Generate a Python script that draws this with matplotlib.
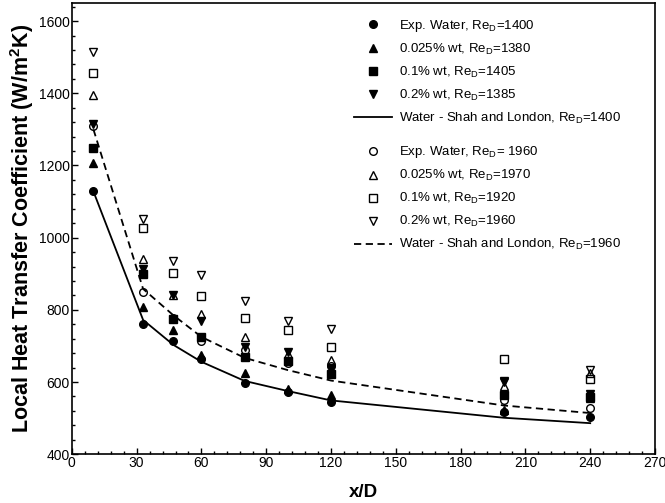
import matplotlib
matplotlib.use("Agg")
from matplotlib import pyplot as plt
from matplotlib.lines import Line2D

plt.rcParams['font.family'] = ['Liberation Sans', 'DejaVu Sans']
plt.rcParams['mathtext.fontset'] = 'custom'
plt.rcParams['mathtext.rm'] = 'Liberation Sans'
plt.rcParams['mathtext.it'] = 'Liberation Sans:italic'
plt.rcParams['mathtext.bf'] = 'Liberation Sans:bold'

# axial positions of the measurements
x_exp = [10, 33, 47, 60, 80, 100, 120, 200, 240]

# Re ~ 1400 (filled markers)
water_1400 = [1128, 761, 715, 665, 597, 572, 545, 517, 503]
wt025_1380 = [1206, 807, 743, 674, 625, 582, 563, 522, 555]
wt01_1405 = [1247, 898, 775, 726, 669, 658, 623, 565, 558]
wt02_1385 = [1314, 913, 840, 770, 697, 683, 636, 602, 568]

# Re ~ 1960 (open markers)
water_1960 = [1310, 849, 778, 715, 688, 652, 645, 550, 529]
wt025_1970 = [1394, 941, 840, 789, 724, 678, 660, 588, 625]
wt01_1920 = [1455, 1026, 902, 838, 777, 743, 697, 665, 607]
wt02_1960 = [1515, 1052, 934, 897, 824, 769, 748, 600, 632]

# Shah and London correlation
shah_1400 = [1128, 772, 703, 656, 603, 575, 549, 501, 486]
shah_1960 = [1300, 858, 785, 725, 667, 633, 604, 535, 514]

fig = plt.figure(figsize=(6.65, 5.03), dpi=100)
ax = fig.add_axes([0.108, 0.097, 0.877, 0.897])

ms = 5.5
dash = (0, (4, 2.5))
ax.plot(x_exp, shah_1400, '-', color='black', lw=1.3, zorder=2)
ax.plot(x_exp, shah_1960, color='black', lw=1.3, linestyle=dash, zorder=2)

filled = [(water_1400, 'o'), (wt025_1380, '^'), (wt01_1405, 's'), (wt02_1385, 'v')]
opened = [(water_1960, 'o'), (wt025_1970, '^'), (wt01_1920, 's'), (wt02_1960, 'v')]
for vals, m in filled:
    ax.plot(x_exp, vals, m, ms=ms, color='black', mec='black', zorder=3)
for vals, m in opened:
    ax.plot(x_exp, vals, m, ms=ms, mfc='none', mec='black', mew=1.0, zorder=3)

ax.set_xlim(0, 270)
ax.set_ylim(400, 1650)
ax.set_xticks(range(0, 271, 30))
ax.set_xticks(range(0, 271, 6), minor=True)
ax.set_yticks(range(400, 1601, 200))
ax.set_yticks(range(400, 1650, 40), minor=True)
ax.tick_params(which='both', direction='in', labelsize=10, pad=1.5, width=1)
ax.tick_params(which='major', length=4)
ax.tick_params(which='minor', length=2.5)
for sp in ax.spines.values():
    sp.set_linewidth(1.2)

ax.set_xlabel('x/D', fontsize=13.5, fontweight='bold', labelpad=10)
ax.set_ylabel(r'Local Heat Transfer Coefficient (W/m$^\mathbf{2}$K)', fontsize=15.5,
              fontweight='bold', labelpad=2)

re = r'Re$_\mathregular{D}$'
h1 = [Line2D([], [], ls='none', marker='o', ms=ms, color='black'),
      Line2D([], [], ls='none', marker='^', ms=ms, color='black'),
      Line2D([], [], ls='none', marker='s', ms=ms, color='black'),
      Line2D([], [], ls='none', marker='v', ms=ms, color='black'),
      Line2D([], [], ls='-', lw=1.3, color='black')]
l1 = ['Exp. Water, ' + re + '=1400', '0.025% wt, ' + re + '=1380',
      '0.1% wt, ' + re + '=1405', '0.2% wt, ' + re + '=1385',
      'Water - Shah and London, ' + re + '=1400']
h2 = [Line2D([], [], ls='none', marker='o', ms=ms, mfc='none', mec='black'),
      Line2D([], [], ls='none', marker='^', ms=ms, mfc='none', mec='black'),
      Line2D([], [], ls='none', marker='s', ms=ms, mfc='none', mec='black'),
      Line2D([], [], ls='none', marker='v', ms=ms, mfc='none', mec='black'),
      Line2D([], [], lw=1.3, color='black', linestyle=dash)]
l2 = ['Exp. Water, ' + re + '= 1960', '0.025% wt, ' + re + '=1970',
      '0.1% wt, ' + re + '=1920', '0.2% wt, ' + re + '=1960',
      'Water - Shah and London, ' + re + '=1960']

leg_kw = dict(frameon=False, fontsize=9.5, handlelength=2.9, handletextpad=0.5,
              labelspacing=0.6, borderpad=0, borderaxespad=0, loc='upper left')
leg1 = ax.legend(h1, l1, bbox_to_anchor=(0.484, 0.967), **leg_kw)
ax.add_artist(leg1)
ax.legend(h2, l2, bbox_to_anchor=(0.484, 0.687), **leg_kw)

fig.savefig('out.png', dpi=100)
